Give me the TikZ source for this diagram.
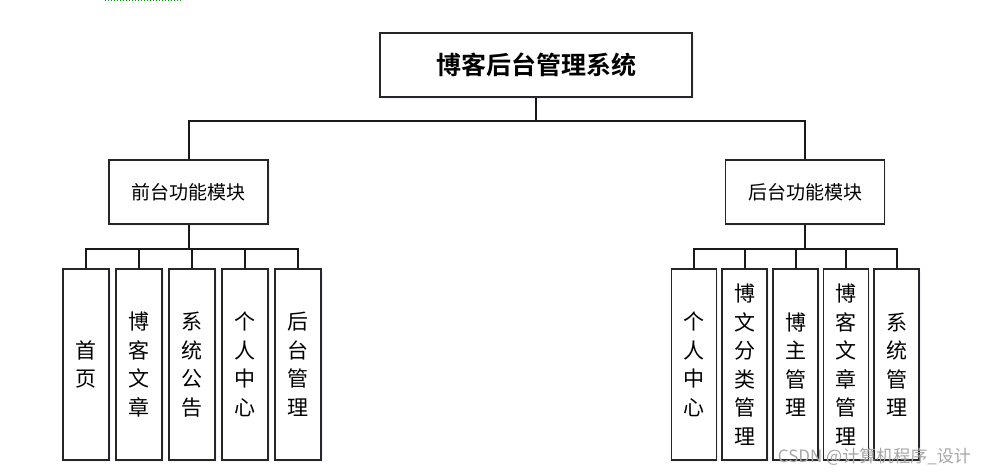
\documentclass[tikz,border=0pt]{standalone}
\usepackage{fontspec}
\newfontfamily\cjk{Noto Sans CJK SC}
\newfontfamily\cjkb{Noto Sans CJK SC}[BoldFont={* Bold}]
\usetikzlibrary{shadows}
\begin{document}
\begin{tikzpicture}[x=1pt,y=-1pt,
  box/.style={draw=black!85, line width=1.8pt, fill=white, inner sep=0pt,
    drop shadow={opacity=0.12, fill=blue!40, shadow xshift=1.5pt, shadow yshift=-2pt}},
  rootbox/.style={box, minimum width=312pt, minimum height=64pt, font=\cjkb\bfseries\fontsize{25}{28}\selectfont},
  modbox/.style={box, minimum width=159pt, minimum height=64pt, font=\cjk\fontsize{19}{22}\selectfont},
  leafL/.style={box, minimum width=46pt, minimum height=191pt, align=center, font=\cjk\fontsize{21}{28.5}\selectfont},
  leafR/.style={box, minimum width=45pt, minimum height=191pt, align=center, font=\cjk\fontsize{21}{28.5}\selectfont},
  link/.style={draw=black!90, line width=2pt}]
\useasboundingbox (0,0) rectangle (987,476);
\draw[green!60!black, dotted, line width=1pt] (105,0.5) -- (183,0.5);
% root
\node[rootbox] (root) at (536,65) {博客后台管理系统};
% modules
\node[modbox] (front) at (188.5,192) {前台功能模块};
\node[modbox] (back) at (805,192) {后台功能模块};
% left leaves
\node[leafL] (l1) at (86,364.5) {首\\页};
\node[leafL] (l2) at (139,364.5) {博\\客\\文\\章};
\node[leafL] (l3) at (192,364.5) {系\\统\\公\\告};
\node[leafL] (l4) at (245,364.5) {个\\人\\中\\心};
\node[leafL] (l5) at (298,364.5) {后\\台\\管\\理};
% right leaves
\node[leafR] (r1) at (694,364.5) {个\\人\\中\\心};
\node[leafR] (r2) at (744.5,364.5) {博\\文\\分\\类\\管\\理};
\node[leafR] (r3) at (795.5,364.5) {博\\主\\管\\理};
\node[leafR] (r4) at (846,364.5) {博\\客\\文\\章\\管\\理};
\node[leafR] (r5) at (896.5,364.5) {系\\统\\管\\理};
% connectors
\coordinate (topbus) at (0,121);
\coordinate (lbus) at (0,249);
\coordinate (rbus) at (0,249);
\draw[link] (root.south) -- (root.south |- topbus);
\draw[link] (front.north) -- (front.north |- topbus) -- (back.north |- topbus) -- (back.north);
\draw[link] (front.south) -- (front.south |- lbus);
\draw[link] (l1.north) -- (l1.north |- lbus) -- (l5.north |- lbus) -- (l5.north);
\draw[link] (l2.north) -- (l2.north |- lbus);
\draw[link] (l3.north) -- (l3.north |- lbus);
\draw[link] (l4.north) -- (l4.north |- lbus);
\draw[link] (back.south) -- (back.south |- rbus);
\draw[link] (r1.north) -- (r1.north |- rbus) -- (r5.north |- rbus) -- (r5.north);
\draw[link] (r2.north) -- (r2.north |- rbus);
\draw[link] (r3.north) -- (r3.north |- rbus);
\draw[link] (r4.north) -- (r4.north |- rbus);
% watermark
\node[font=\cjk\fontsize{17}{20}\selectfont, text=black!35, anchor=east, inner sep=0pt] (wm) at (971,457) {CSDN @计算机程序\_设计};
\end{tikzpicture}
\end{document}
